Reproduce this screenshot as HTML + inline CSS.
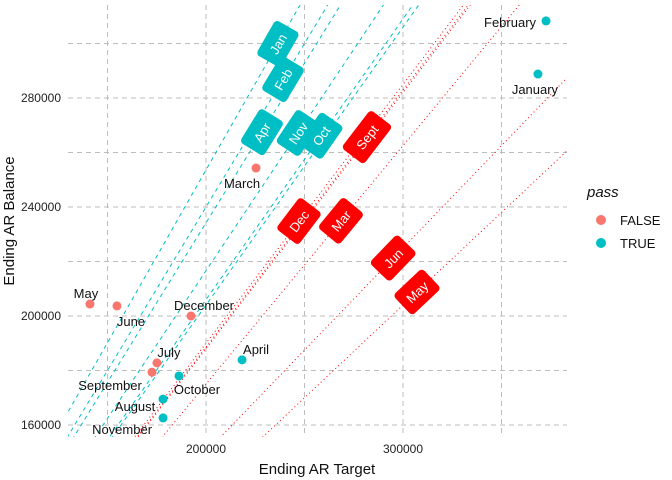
<!DOCTYPE html>
<html><head><meta charset="utf-8"><style>
html,body{margin:0;padding:0;background:#fff;overflow:hidden;width:672px;height:480px;font-family:"Liberation Sans",sans-serif}
svg{display:block}
svg text{font-family:"Liberation Sans",sans-serif}
</style></head><body>
<svg id="c" width="672" height="480" xmlns="http://www.w3.org/2000/svg">
<defs><clipPath id="clip"><rect x="68" y="5" width="499" height="432"/></clipPath></defs>
<g id="grid"></g><g id="lines" clip-path="url(#clip)"></g><g id="labels"></g><g id="pts"></g><g id="axes"></g>
<text x="317" y="474" font-size="15" text-anchor="middle" fill="#111">Ending AR Target</text>
<text x="0" y="0" font-size="15" text-anchor="middle" fill="#111" transform="translate(14,221) rotate(-90)">Ending AR Balance</text>
<g>
<text x="587" y="197" font-size="15" font-style="italic" fill="#111">pass</text>
<circle cx="601" cy="220" r="5" fill="#F8766D"/>
<text x="620" y="225" font-size="13" fill="#111">FALSE</text>
<circle cx="601" cy="243" r="5" fill="#00BFC4"/>
<text x="620" y="248" font-size="13" fill="#111">TRUE</text>
</g>
</svg>
<script>
const months=["January","February","March","April","May","June","July","August","September","October","November","December"];
const targets=[368500,372600,225400,218300,141100,154800,175100,178200,172600,186300,178200,192400];
const balances=[288800,308300,254300,183900,204400,203700,182800,169500,179400,178000,162600,200000];
const pass=[true,true,false,true,false,false,false,true,false,true,true,false];
const lineAbbr=["Jan","Feb","Mar","Apr","May","Jun","Jul","Aug","Sept","Oct","Nov","Dec"];
const lineRatio=[1.268,1.2,0.875,1.171,0.68,0.75,0.94,1.02,0.943,1.03,1.083,0.95];
const lineLabelX=[236500,239100,268500,228400,307100,295000,null,null,281700,258400,246700,247200];
const xTicks=[200000,300000];
const yTicks=[160000,200000,240000,280000];
const lblDx=[-3,-36,-14,14,-4,14,12,-28,-42,18,-41,13];
const lblDy=[16,2,16,-10,-10,16,-10,8,14,14,12,-10];

const X=v=>206+(v-200000)*197/100000;
const Y=v=>316-(v-200000)*2.725/1000;
const NS="http://www.w3.org/2000/svg";
function mk(t,a,p){const e=document.createElementNS(NS,t);for(const k in a)e.setAttribute(k,a[k]);p.appendChild(e);return e;}
const grid=document.getElementById('grid');
[150000,200000,250000,300000,350000].forEach(v=>{
 const l=mk('line',{x1:X(v),x2:X(v),y1:5,y2:437,stroke:'#bdbdbd','stroke-dasharray':'5,4','stroke-width':1},grid);
 
 
});
[160000,180000,200000,220000,240000,260000,280000,300000].forEach(v=>{
 const l=mk('line',{x1:68,x2:567,y1:Y(v),y2:Y(v),stroke:'#bdbdbd','stroke-dasharray':'5,4','stroke-width':1},grid);
 
 
});
const axes=document.getElementById('axes');
xTicks.forEach(v=>{const t=mk('text',{x:X(v),y:453,'font-size':12,'text-anchor':'middle',fill:'#222'},axes);t.textContent=v;
 
 });
yTicks.forEach(v=>{const t=mk('text',{x:61,y:Y(v)+4,'font-size':12,'text-anchor':'end',fill:'#222'},axes);t.textContent=v;
 
 });
const lines=document.getElementById('lines'),labels=document.getElementById('labels');
lineRatio.forEach((k,i)=>{
 const col=pass[i]?'#00BFC4':'#FF0000';
 const x0=100000,x1=420000;
 const l=mk('line',{x1:X(x0),y1:Y(k*x0),x2:X(x1),y2:Y(k*x1),stroke:col,'stroke-width':1,'stroke-dasharray':pass[i]?'4,4':'1,3'},lines);
 
 
 if(lineLabelX[i]!==null){
  const lx=X(lineLabelX[i]),ly=Y(k*lineLabelX[i]);
  const ang=Math.atan(k*2.725/1.97)*180/Math.PI;
  const g=mk('g',{transform:`translate(${lx},${ly}) rotate(${-ang})`},labels);
  
  
  const w=lineAbbr[i].length*8+16;
  mk('rect',{x:-w/2,y:-14,width:w,height:28,rx:4,fill:col},g);
  const t=mk('text',{x:0,y:5,'font-size':13,'text-anchor':'middle',fill:'#fff'},g);t.textContent=lineAbbr[i];
 }
});
const pts=document.getElementById('pts');
months.forEach((m,i)=>{
 const cx=X(targets[i]),cy=Y(balances[i]);
 const c=mk('circle',{cx:cx,cy:cy,r:4.5,fill:pass[i]?'#00BFC4':'#F8766D'},pts);
 
 
 const t=mk('text',{x:cx+lblDx[i],y:cy+lblDy[i]+4,'font-size':13,'text-anchor':'middle',fill:'#111'},pts);t.textContent=m;
 
 
});
</script>
</body></html>
